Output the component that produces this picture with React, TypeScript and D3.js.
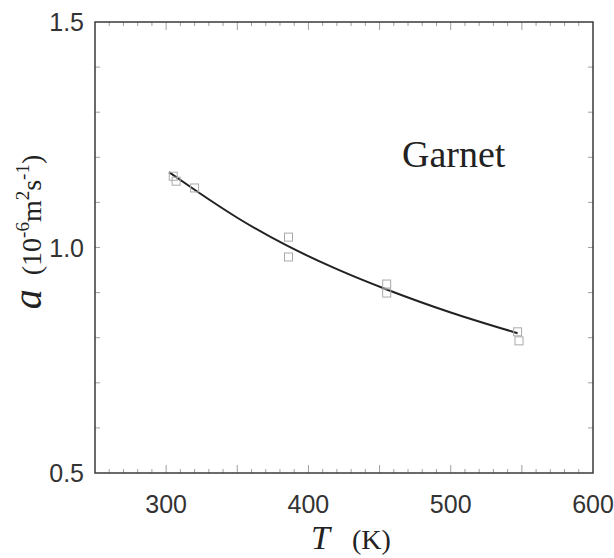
import React from "react";
import * as d3 from "d3";

const pointT = [305, 307, 320, 386, 386, 455, 455, 547, 548];
const pointA = [1.158, 1.147, 1.132, 1.023, 0.979, 0.919, 0.899, 0.813, 0.793];

const curveT = [302, 320, 350, 385, 420, 455, 500, 547];
const curveA = [1.167, 1.128, 1.066, 1.004, 0.952, 0.907, 0.856, 0.81];

const xTickLabels = [300, 400, 500, 600];
const yTickLabels = [0.5, 1.0, 1.5];

export default function App() {
  const W = 614, H = 558;
  const L = 95, R = 593, T = 22, B = 473;
  const x = d3.scaleLinear().domain([250, 600]).range([L, R]);
  const y = d3.scaleLinear().domain([0.5, 1.5]).range([B, T]);

  const xMinor = d3.range(260, 600, 10);
  const yMinor = d3.range(0.6, 1.5, 0.1);

  const line = d3
    .line<number>()
    .x((_, i) => x(curveT[i]))
    .y((d) => y(d))
    .curve(d3.curveNatural);

  const frame = "#3a3a3a";
  const tickCol = "#888";
  const sq = 8;

  return (
    <svg width={W} height={H} style={{ position: "absolute", left: 0, top: 0, background: "#fff" }}>
      {xMinor.map((v) => {
        const major = v % 50 === 0;
        const len = major ? 8 : 4;
        return (
          <g key={"xt" + v}>
            <line x1={x(v)} x2={x(v)} y1={B} y2={B - len} stroke={tickCol} strokeWidth={0.8} />
            <line x1={x(v)} x2={x(v)} y1={T} y2={T + len} stroke={tickCol} strokeWidth={0.8} />
          </g>
        );
      })}
      {yMinor.map((v) => (
        <g key={"yt" + v}>
          <line x1={L} x2={L + 5} y1={y(v)} y2={y(v)} stroke={tickCol} strokeWidth={0.8} />
          <line x1={R} x2={R - 5} y1={y(v)} y2={y(v)} stroke={tickCol} strokeWidth={0.8} />
        </g>
      ))}
      <rect x={L} y={T} width={R - L} height={B - T} fill="none" stroke={frame} strokeWidth={1.5} />

      {xTickLabels.map((v) => (
        <text key={"xl" + v} x={x(v)} y={513} textAnchor="middle" fontFamily="Liberation Sans, Arial, sans-serif" fontSize={25} fill="#333">
          {v}
        </text>
      ))}
      {yTickLabels.map((v) => (
        <text key={"yl" + v} x={84} y={y(v) + 9} textAnchor="end" fontFamily="Liberation Sans, Arial, sans-serif" fontSize={25} fill="#333">
          {v.toFixed(1)}
        </text>
      ))}

      <path d={line(curveA) || ""} fill="none" stroke="#222" strokeWidth={2} />

      {pointT.map((t, i) => (
        <rect key={"p" + i} x={x(t) - sq / 2} y={y(pointA[i]) - sq / 2} width={sq} height={sq} fill="none" stroke="#aaa" strokeWidth={1} />
      ))}

      <text x={402} y={167} fontFamily="Liberation Serif, Times New Roman, serif" fontSize={38} fill="#222">
        Garnet
      </text>

      <text x={351} y={549} textAnchor="middle" fontFamily="Liberation Serif, Times New Roman, serif" fill="#222">
        <tspan fontStyle="italic" fontSize={34}>T</tspan>
        <tspan fontSize={28} dx={22}>(K)</tspan>
      </text>

      <text transform="translate(41,232) rotate(-90)" textAnchor="middle" fontFamily="Liberation Serif, Times New Roman, serif" fill="#222">
        <tspan fontStyle="italic" fontSize={40}>a</tspan>
        <tspan fontSize={28} dx={14}>(10</tspan>
        <tspan fontSize={19} dy={-12}>-6</tspan>
        <tspan fontSize={28} dy={12}>m</tspan>
        <tspan fontSize={19} dy={-12}>2</tspan>
        <tspan fontSize={28} dy={12}>s</tspan>
        <tspan fontSize={19} dy={-12}>-1</tspan>
        <tspan fontSize={28} dy={12}>)</tspan>
      </text>
    </svg>
  );
}
